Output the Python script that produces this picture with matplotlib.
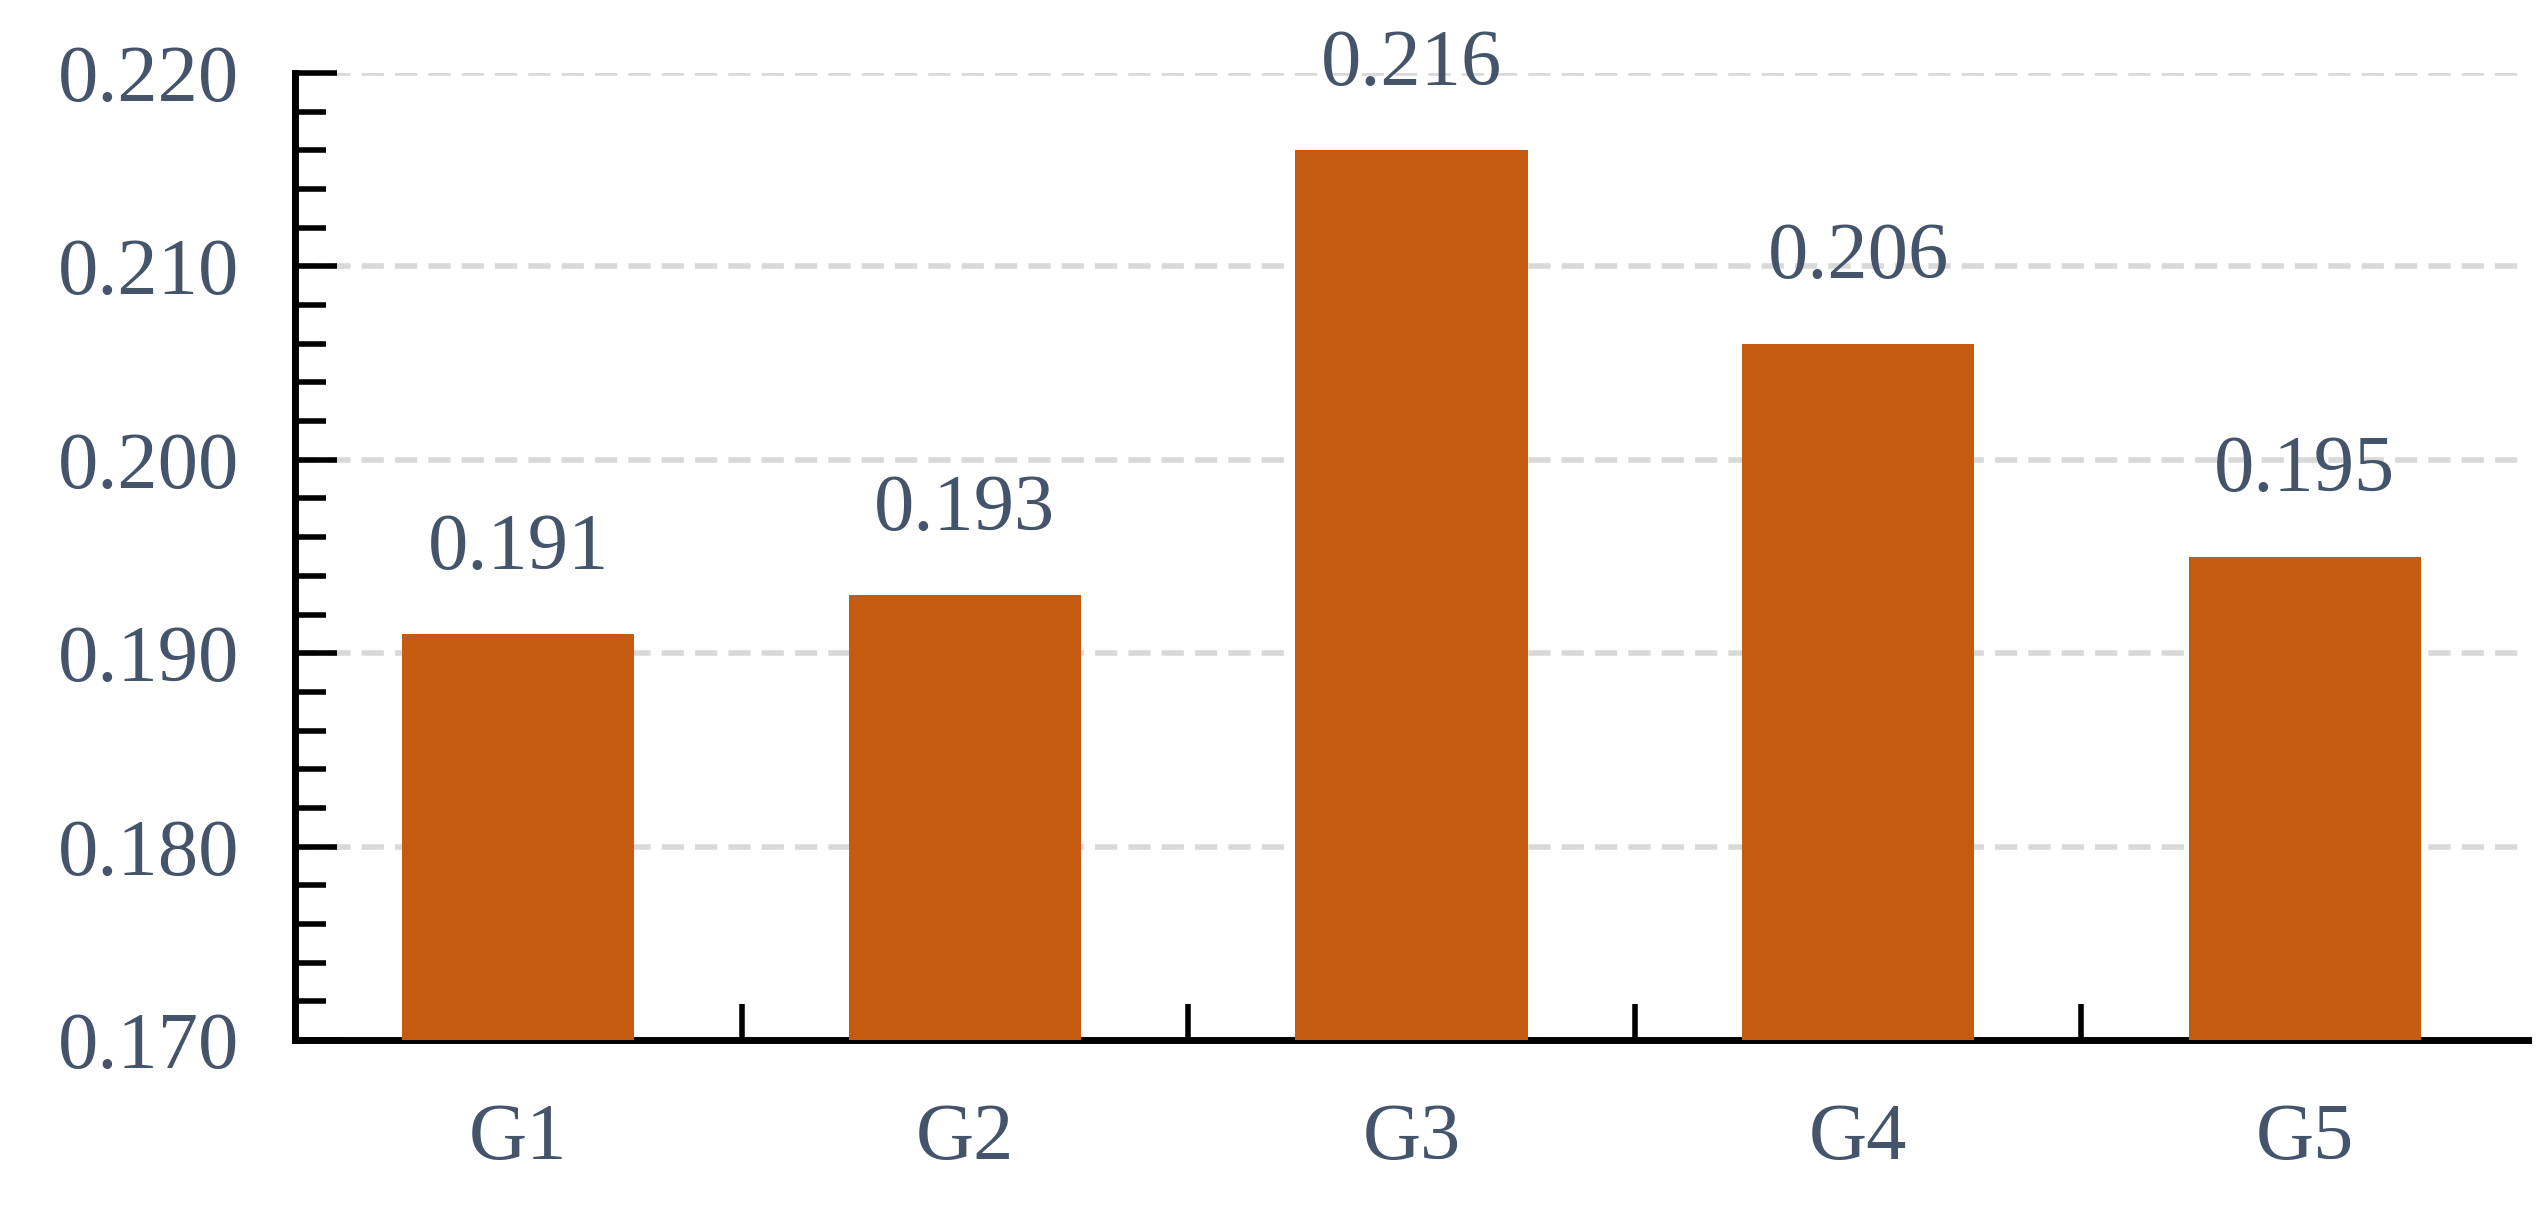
import matplotlib.pyplot as plt
from matplotlib.ticker import MultipleLocator, FixedLocator

groups = ["G1", "G2", "G3", "G4", "G5"]
values = [0.191, 0.193, 0.216, 0.206, 0.195]

text_color = "#44546a"
bar_color = "#c55a11"

plt.rcParams['font.family'] = ['Liberation Serif', 'DejaVu Serif']

fig = plt.figure(figsize=(25.47, 12.19), dpi=100)
ax = fig.add_axes([295 / 2547, 1 - 1040 / 1219, (2528 - 295) / 2547, (1040 - 73) / 1219])

x = range(len(groups))
ax.bar(x, values, width=0.52, color=bar_color, zorder=3)
for i, v in enumerate(values):
    ax.text(i, v + 0.0025, f"{v:.3f}", ha="center", va="bottom",
            fontsize=58, color=text_color)

ax.set_ylim(0.170, 0.220)
ax.set_xlim(-0.5, 4.5)
ax.yaxis.set_major_locator(MultipleLocator(0.010))
ax.yaxis.set_minor_locator(MultipleLocator(0.002))
ax.set_yticklabels([f"{t:.3f}" for t in ax.get_yticks()])
ax.xaxis.set_major_locator(FixedLocator([0.5, 1.5, 2.5, 3.5]))
ax.xaxis.set_minor_locator(FixedLocator(list(x)))
ax.xaxis.set_minor_formatter(plt.FixedFormatter(groups))
ax.xaxis.set_major_formatter(plt.NullFormatter())

ax.tick_params(axis="both", which="both", direction="in", width=4,
               labelsize=58, labelcolor=text_color, colors="black")
ax.tick_params(axis="y", which="major", length=30, pad=40)
ax.tick_params(axis="y", which="minor", length=22)
ax.tick_params(axis="x", which="major", length=26)
ax.tick_params(axis="x", which="minor", length=19, pad=45)

for s in ["top", "right"]:
    ax.spines[s].set_visible(False)
for s in ["left", "bottom"]:
    ax.spines[s].set_linewidth(5)

ax.grid(axis="y", which="major", color="#d9d9d9", linestyle=(0, (4, 2)), linewidth=4, zorder=0)

fig.savefig("out.png", dpi=100)
